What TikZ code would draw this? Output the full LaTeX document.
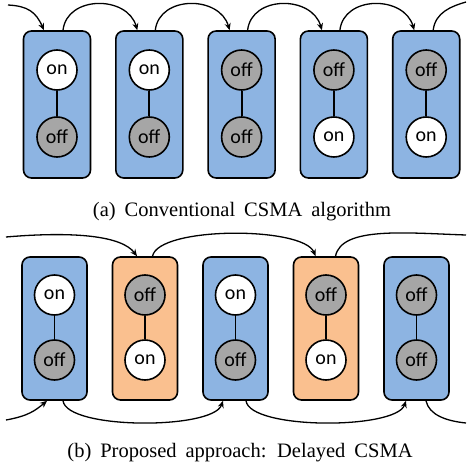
\documentclass[tikz,border=0pt]{standalone}
\usepackage{fontspec}
\setmainfont{Liberation Serif}
\newfontfamily\statefont{Carlito}
\usetikzlibrary{arrows.meta}

\definecolor{slotblue}{HTML}{8DB4E2}
\definecolor{slotorange}{HTML}{FAC08F}
\definecolor{stategray}{HTML}{A6A6A6}
\colorlet{on}{white}
\colorlet{off}{stategray}
\newcommand{\wide}{\spaceskip=9pt plus 0pt\relax}

\tikzset{
  slot/.style={draw, line width=1.6pt, rounded corners=8pt, inner sep=0pt},
  slota/.style={slot, minimum width=67pt, minimum height=147pt},
  slotb/.style={slot, minimum width=65pt, minimum height=143pt},
  state/.style={circle, draw, line width=1.6pt, minimum size=40pt, inner sep=0pt,
    font=\statefont\fontsize{20}{20}\selectfont},
  link/.style={line width=1.8pt},
  hop/.style={-{Stealth[length=7pt,width=6pt]}, line width=1.3pt},
  caption/.style={anchor=base, font=\fontsize{20.5}{24}\selectfont}
}

\begin{document}
\begin{tikzpicture}[x=1pt,y=1pt]
  \useasboundingbox (0,0) rectangle (466,-468);

  % (a) conventional
  \foreach \i/\up/\down [evaluate=\i as \x using 57+(\i-1)*92.3] in
      {1/on/off, 2/on/off, 3/off/off, 4/off/on, 5/off/on} {
    \node[slota, fill=slotblue] (a\i) at (\x,-104.5) {};
    \node[state, fill=\up] (a\i t) at (\x,-70) {\up};
    \node[state, fill=\down] (a\i b) at (\x,-137) {\down};
    \draw[link] (a\i t) -- (a\i b);
  }
  \foreach \i [count=\j from 2] in {1,...,4}
    \draw[hop] ([xshift=6pt]a\i.north) .. controls +(4,35) and +(-10,35) .. ([xshift=-12pt]a\j.north);
  \coordinate (ain) at (8,-5);
  \coordinate (aout) at (466,-2);
  \draw[hop] (ain) .. controls +(20,-1) and +(-8,18) .. ([xshift=-13pt]a1.north);
  \draw[line width=1.3pt] ([xshift=7pt]a5.north) .. controls +(2,18) and +(-14,-4) .. (aout);

  \node[caption] (capa) at (242,-216) {\wide (a) Conventional CSMA algorithm};

  % (b) delayed
  \foreach \i/\up/\down/\fillc [evaluate=\i as \x using 54.5+(\i-1)*90.5] in
      {1/on/off/slotblue, 2/off/on/slotorange, 3/on/off/slotblue, 4/off/on/slotorange, 5/off/off/slotblue} {
    \node[slotb, fill=\fillc] (b\i) at (\x,-328.5) {};
    \node[state, fill=\up] (b\i t) at (\x,-295) {\up};
    \node[state, fill=\down] (b\i b) at (\x,-360) {\down};
    \draw[link] (b\i t) -- (b\i b);
  }
  \coordinate (bin1) at (6,-237);
  \coordinate (bout1) at (466,-235);
  \coordinate (bin2) at (6,-420);
  \coordinate (bout2) at (466,-423);
  \draw[hop] (bin1) .. controls +(70,6) and +(-15,20) .. ([xshift=-8pt]b2.north);
  \draw[hop] ([xshift=7.5pt]b2.north) .. controls +(6,30) and +(-12,30) .. ([xshift=-10.5pt]b4.north);
  \draw[line width=1.3pt] ([xshift=9.5pt]b4.north) .. controls +(6,30) and +(-60,2) .. (bout1);
  \draw[hop] (bin2) .. controls +(22,4) and +(-12,-10) .. ([xshift=-7.5pt]b1.south);
  \draw[hop] ([xshift=8.5pt]b1.south) .. controls +(4,-29) and +(-10,-29) .. ([xshift=-12.5pt]b3.south);
  \draw[hop] ([xshift=10.5pt]b3.south) .. controls +(4,-29) and +(-10,-29) .. ([xshift=-10.5pt]b5.south);
  \draw[line width=1.3pt] ([xshift=9.5pt]b5.south) .. controls +(3,-14) and +(-20,2) .. (bout2);

  \node[caption] (capb) at (240,-457) {\wide (b) Proposed approach: Delayed CSMA};
\end{tikzpicture}
\end{document}
